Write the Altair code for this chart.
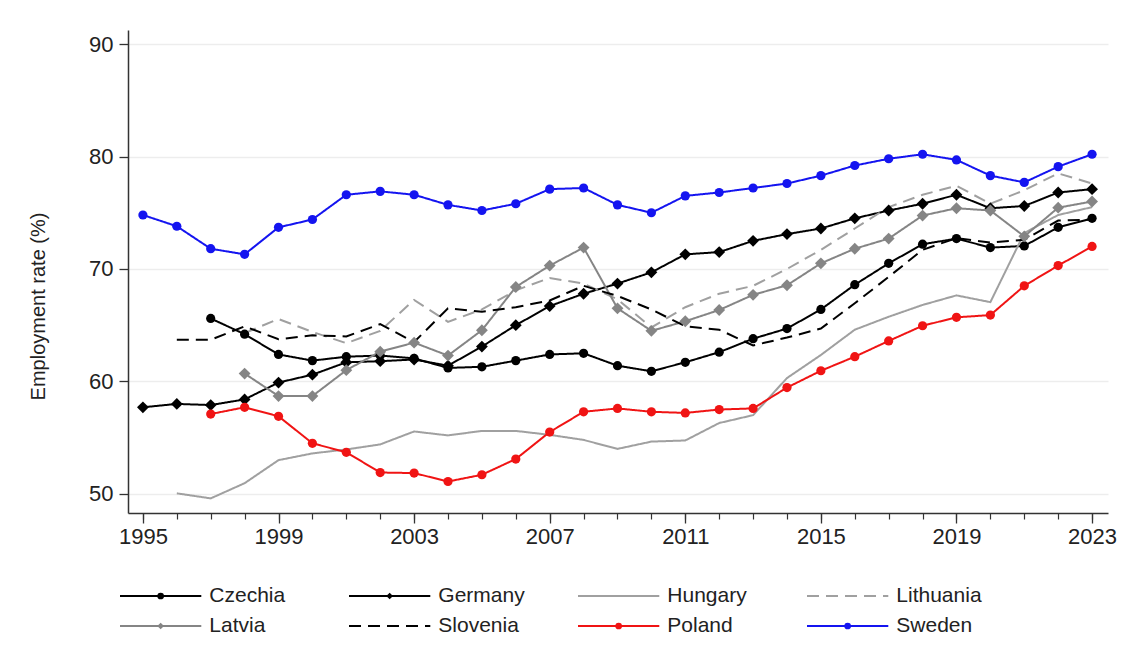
import altair as alt
import pandas as pd

years = list(range(1995, 2024))
major_years = list(range(1995, 2024, 4))
y_ticks = [50, 60, 70, 80, 90]

countries = ["Czechia", "Germany", "Hungary", "Lithuania",
             "Latvia", "Slovenia", "Poland", "Sweden"]
marker_countries = ["Czechia", "Germany", "Latvia", "Poland", "Sweden"]

N = None
czechia = [N, N, 65.6, 64.2, 62.4, 61.85, 62.2, 62.3, 62.05, 61.2, 61.3, 61.85, 62.4, 62.5,
           61.4, 60.9, 61.7, 62.6, 63.8, 64.7, 66.4, 68.6, 70.5, 72.2, 72.7, 71.9, 72.05,
           73.7, 74.5]
germany = [57.7, 58.0, 57.9, 58.4, 59.9, 60.6, 61.7, 61.8, 61.95, 61.4, 63.1, 65.0, 66.7,
           67.8, 68.7, 69.7, 71.3, 71.5, 72.5, 73.1, 73.6, 74.5, 75.2, 75.8, 76.6, 75.4,
           75.6, 76.8, 77.1]
hungary = [N, 50.05, 49.6, 50.95, 53.0, 53.6, 53.95, 54.4, 55.55, 55.2, 55.6, 55.6, 55.25,
           54.8, 54.0, 54.65, 54.75, 56.3, 57.0, 60.3, 62.35, 64.6, 65.75, 66.8, 67.65,
           67.05, 73.2, 74.8, 75.5]
lithuania = [N, N, N, 64.3, 65.55, 64.4, 63.4, 64.5, 67.25, 65.3, 66.4, 68.1, 69.2, 68.7,
             67.3, 64.8, 66.6, 67.8, 68.5, 70.0, 71.7, 73.6, 75.5, 76.6, 77.4, 75.8, 77.0,
             78.5, 77.6]
latvia = [N, N, N, 60.7, 58.7, 58.7, 61.0, 62.65, 63.45, 62.3, 64.55, 68.4, 70.3, 71.9,
          66.5, 64.5, 65.35, 66.35, 67.7, 68.55, 70.5, 71.8, 72.7, 74.75, 75.4, 75.2, 72.9,
          75.45, 76.0]
slovenia = [N, 63.7, 63.7, 64.9, 63.75, 64.1, 64.0, 65.1, 63.5, 66.5, 66.2, 66.6, 67.2,
            68.5, 67.6, 66.4, 64.9, 64.6, 63.2, 63.9, 64.7, 66.95, 69.3, 71.7, 72.75,
            72.35, 72.6, 74.3, 74.4]
poland = [N, N, 57.1, 57.7, 56.9, 54.5, 53.7, 51.9, 51.85, 51.1, 51.7, 53.1, 55.5, 57.3,
          57.6, 57.3, 57.2, 57.5, 57.6, 59.45, 60.95, 62.2, 63.6, 64.95, 65.7, 65.9, 68.5,
          70.3, 72.0]
sweden = [74.8, 73.8, 71.8, 71.3, 73.7, 74.4, 76.6, 76.9, 76.6, 75.7, 75.2, 75.8, 77.1,
          77.2, 75.7, 75.0, 76.5, 76.8, 77.2, 77.6, 78.3, 79.2, 79.8, 80.2, 79.7, 78.3,
          77.7, 79.1, 80.2]

series = {"Czechia": czechia, "Germany": germany, "Hungary": hungary,
          "Lithuania": lithuania, "Latvia": latvia, "Slovenia": slovenia,
          "Poland": poland, "Sweden": sweden}

colors = ["#000000", "#000000", "#a0a0a0", "#a0a0a0",
          "#858585", "#000000", "#f01414", "#1414f0"]
dashes = [[1, 0], [1, 0], [1, 0], [12, 7], [1, 0], [12, 7], [1, 0], [1, 0]]
shapes = ["circle", "diamond", "diamond", "circle", "circle"]

rows = []
for name, vals in series.items():
    for yr, v in zip(years, vals):
        if v is not None:
            rows.append({"year": yr, "value": v, "country": name})
df = pd.DataFrame(rows)

leg_df = pd.DataFrame({"country": countries,
                       "col": [i % 4 for i in range(len(countries))],
                       "row": [i // 4 for i in range(len(countries))]})

FONT = "Liberation Sans"
color_scale = alt.Scale(domain=countries, range=colors)
dash_scale = alt.Scale(domain=countries, range=dashes)
shape_scale = alt.Scale(domain=marker_countries, range=shapes)
x_scale = alt.Scale(domain=[1994.56, 2023.47], nice=False, zero=False)
y_scale = alt.Scale(domain=[48.3, 91.25], nice=False, zero=False)

y_enc = alt.Y("value:Q", scale=y_scale,
              axis=alt.Axis(values=y_ticks, grid=True, gridColor="#ededed", gridWidth=1.5,
                            tickSize=9, tickColor="#333333", tickWidth=1.3,
                            domainColor="#333333", domainWidth=1.5,
                            labelFontSize=22, labelPadding=6, labelColor="#222222",
                            title="Employment rate (%)", titleFontSize=20,
                            titleFontWeight="normal", titleColor="#222222",
                            titleX=-90, titleY=276, titleAngle=270,
                            titleAlign="center", titleBaseline="middle"))

lines = alt.Chart(df).mark_line(strokeWidth=2).encode(
    x=alt.X("year:Q", scale=x_scale,
            axis=alt.Axis(values=major_years, orient="bottom", tickSize=10,
                          tickColor="#333333", tickWidth=1.3, domainColor="#333333",
                          domainWidth=1.5, labelFontSize=22, labelPadding=3,
                          labelColor="#222222", labelFlush=False, labelOverlap=False,
                          grid=False, title=None, format="d")),
    y=y_enc,
    color=alt.Color("country:N", scale=color_scale, legend=None),
    strokeDash=alt.StrokeDash("country:N", scale=dash_scale, legend=None),
    detail="country:N",
)

points = alt.Chart(df).transform_filter(
    alt.FieldOneOfPredicate(field="country", oneOf=marker_countries)
).mark_point(filled=True, opacity=1, size=80).encode(
    x=alt.X("year:Q", scale=x_scale,
            axis=alt.Axis(values=years, orient="bottom", tickSize=6, labels=False,
                          domain=False, grid=False, title=None,
                          tickColor="#333333", tickWidth=1.2)),
    y=y_enc,
    color=alt.Color("country:N", scale=color_scale, legend=None),
    shape=alt.Shape("country:N", scale=shape_scale, legend=None),
    size=alt.condition(alt.FieldOneOfPredicate(field="country", oneOf=["Germany", "Latvia"]),
                       alt.value(140), alt.value(85)),
)

main = alt.layer(lines, points).resolve_axis(x="independent")

leg_x = alt.Scale(domain=[0.0349, 4.3144], nice=False, zero=False)
leg_y = alt.Scale(domain=[-18.867, -2.767], reverse=True, nice=False, zero=False)

leg_base = alt.Chart(leg_df)
leg_rules = leg_base.transform_calculate(
    xa="datum.col", xb="datum.col + 0.355"
).mark_rule(strokeWidth=2).encode(
    x=alt.X("xa:Q", scale=leg_x, axis=None),
    x2="xb:Q",
    y=alt.Y("row:Q", scale=leg_y, axis=None),
    color=alt.Color("country:N", scale=color_scale, legend=None),
    strokeDash=alt.StrokeDash("country:N", scale=dash_scale, legend=None),
)
leg_pts = leg_base.transform_filter(
    alt.FieldOneOfPredicate(field="country", oneOf=marker_countries)
).transform_calculate(xm="datum.col + 0.1775").mark_point(
    filled=True, opacity=1, size=45
).encode(
    x=alt.X("xm:Q", scale=leg_x, axis=None),
    y=alt.Y("row:Q", scale=leg_y, axis=None),
    color=alt.Color("country:N", scale=color_scale, legend=None),
    shape=alt.Shape("country:N", scale=shape_scale, legend=None),
)
leg_text = leg_base.transform_calculate(xt="datum.col + 0.39").mark_text(
    align="left", baseline="middle", fontSize=21, color="#222222", font=FONT
).encode(
    x=alt.X("xt:Q", scale=leg_x, axis=None),
    y=alt.Y("row:Q", scale=leg_y, axis=None),
    text="country:N",
)
legend = alt.layer(leg_rules, leg_pts, leg_text)

chart = alt.layer(main, legend).resolve_scale(
    x="independent", y="independent"
).properties(
    width=980, height=483,
    autosize=alt.AutoSizeParams(type="none"),
    padding={"left": 120, "top": 22, "right": 11, "bottom": 124},
    background="white",
).configure(font=FONT).configure_view(stroke=None)

chart.save("out.html", embed_options={"renderer": "svg", "actions": False})
